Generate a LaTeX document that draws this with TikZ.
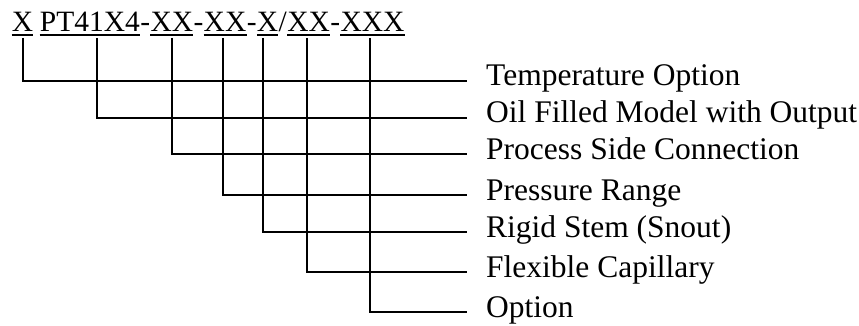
\documentclass[tikz,border=0pt]{standalone}
\usepackage{fontspec}
\setmainfont{Liberation Serif}
\tikzset{
  code/.style={anchor=base west, inner sep=0pt, font=\fontsize{29.5}{34}\selectfont},
  lbl/.style={anchor=base west, inner xsep=19pt, inner ysep=0pt, font=\fontsize{31.5}{36}\selectfont},
  wire/.style={line width=2.4pt},
  uline/.style={line width=1.3pt},
}
\begin{document}
\begin{tikzpicture}[x=1pt, y=-1pt]
\useasboundingbox (0,0) rectangle (859,326);

% model code, one node per field
\node[code] (c1) at (11.7,32) {X};
\node[code] (c2) at (c1.base east) {\hspace*{0.2em}};
\node[code] (c3) at (c2.base east) {PT41X4};
\node[code] (c4) at (c3.base east) {-};
\node[code] (c5) at (c4.base east) {XX};
\node[code] (c6) at (c5.base east) {-};
\node[code] (c7) at (c6.base east) {XX};
\node[code] (c8) at (c7.base east) {-};
\node[code] (c9) at (c8.base east) {X};
\node[code] (c10) at (c9.base east) {/};
\node[code] (c11) at (c10.base east) {XX};
\node[code] (c12) at (c11.base east) {-};
\node[code] (c13) at (c12.base east) {XXX};

\foreach \s in {c1,c3,c5,c7,c9,c11,c13}
  \draw[uline] ([yshift=-3pt]\s.base west) -- ([yshift=-3pt]\s.base east);

% drop points under the fields
\coordinate (d1) at (22.7,38);
\coordinate (d2) at (96.7,38);
\coordinate (d3) at (172,38);
\coordinate (d4) at (222.7,38);
\coordinate (d5) at (263,38);
\coordinate (d6) at (306.7,38);
\coordinate (d7) at (370,38);

% field names
\node[lbl] (l1) at (467,86) {Temperature Option};
\node[lbl] (l2) at (467,123) {Oil Filled Model with Output};
\node[lbl] (l3) at (467,159) {Process Side Connection};
\node[lbl] (l4) at (467,200) {Pressure Range};
\node[lbl] (l5) at (467,237) {Rigid Stem (Snout)};
\node[lbl] (l6) at (467,277) {Flexible Capillary};
\node[lbl] (l7) at (467,317) {Option};

\foreach \i in {1,...,7}
  \draw[wire] (d\i) |- ([yshift=5pt]l\i.base west);
\end{tikzpicture}
\end{document}
